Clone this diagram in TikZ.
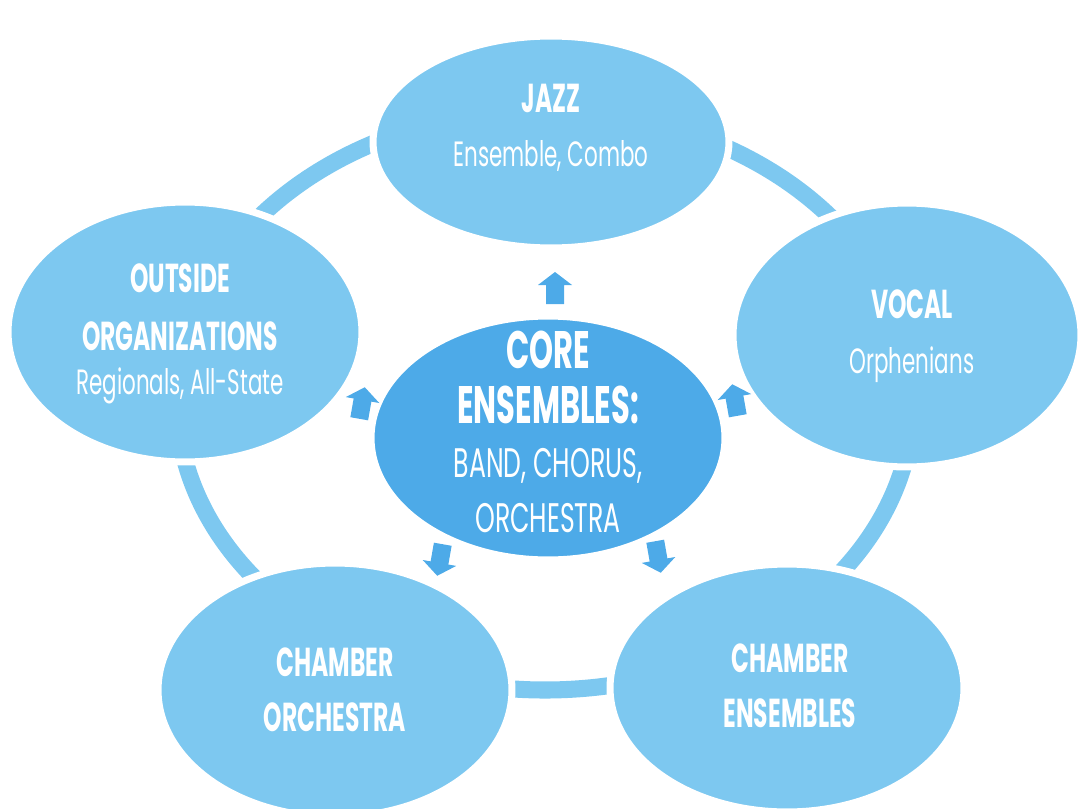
\documentclass[tikz,border=0pt]{standalone}
\usepackage{fontspec}
\setmainfont{Poppins}[UprightFeatures={FakeStretch=0.61}, BoldFeatures={FakeStretch=0.58}]
\usetikzlibrary{shapes.geometric}
\definecolor{ringblue}{HTML}{7DC8F0}
\definecolor{coreblue}{HTML}{4DAAE8}
\newcommand\ttl{\fontsize{23}{31}\bfseries\selectfont}
\newcommand\sbt{\fontsize{20}{31}\mdseries\selectfont}
\newcommand\coret{\fontsize{30}{31}\bfseries\selectfont}
\newcommand\cores{\fontsize{23.5}{31}\mdseries\selectfont}

\begin{document}
\begin{tikzpicture}[x=0.02cm, y=-0.02cm]
\tikzstyle{outer}=[ellipse, fill=ringblue, draw=white, line width=4pt, inner sep=0pt]
\tikzstyle{txt}=[text=white, align=center, inner sep=0pt, font=\fontsize{20}{31}\selectfont]
\useasboundingbox (0,0) rectangle (1078,808);

% ring behind the outer ellipses
\draw[ringblue, line width=9.7pt] (545,400) ellipse [x radius=368, y radius=290];

\node(jazz)[outer, minimum width=7.12cm, minimum height=4.24cm]    at (551,142) {};
\node(vocal)[outer, minimum width=6.96cm, minimum height=5.28cm]   at (907,335) {};
\node(outside)[outer, minimum width=7.08cm, minimum height=5.2cm]  at (185,332) {};
\node(chorch)[outer, minimum width=7.08cm, minimum height=5.08cm]  at (335,690) {};
\node(chens)[outer, minimum width=7.08cm, minimum height=4.96cm]   at (787,688) {};
\node(core)[outer, fill=coreblue, minimum width=7.08cm, minimum height=4.88cm] at (548,438) {};

\node(jazzt)[txt]    at (551,128) {\ttl JAZZ\\ \sbt Ensemble, Combo};
\node(vocalt)[txt]   at (912,336) {\ttl VOCAL\\ \sbt Orphenians};
\node(outsidet)[txt] at (180,334) {\ttl OUTSIDE\\[2pt] \ttl ORGANIZATIONS\\[-6pt] \sbt Regionals, All-State};
\node(chorcht)[txt]  at (335,690) {\ttl CHAMBER\\ \ttl ORCHESTRA};
\node(chenst)[txt]   at (790,686) {\ttl CHAMBER\\ \ttl ENSEMBLES};
\node(coret)[txt]    at (548,432) {\coret CORE\\ \coret ENSEMBLES:\\ \cores BAND, CHORUS,\\ \cores ORCHESTRA};

% small block arrows round the core
\foreach \px/\py/\ang in {555/288/90, 362/403/80, 735/400/100, 440/560/-100, 658/557/-80}
  \fill[coreblue, shift={(\px,\py)}, rotate=\ang]
    (-16,-9) -- (3,-9) -- (3,-17) -- (16,0) -- (3,17) -- (3,9) -- (-16,9) -- cycle;

\end{tikzpicture}
\end{document}
